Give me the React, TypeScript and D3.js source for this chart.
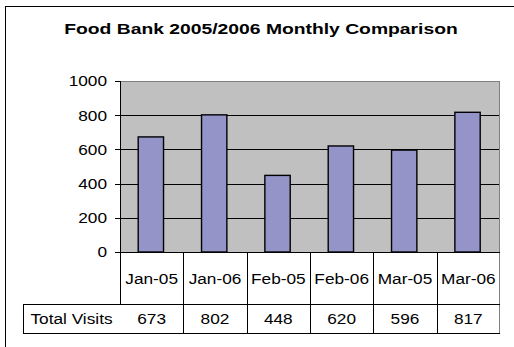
import React from 'react';
import * as d3 from 'd3';

const chartTitle = 'Food Bank 2005/2006 Monthly Comparison';
const categories = ['Jan-05', 'Jan-06', 'Feb-05', 'Feb-06', 'Mar-05', 'Mar-06'];
const seriesName = 'Total Visits';
const totalVisits = [673, 802, 448, 620, 596, 817];
const yTicks = [0, 200, 400, 600, 800, 1000];

const FONT = "'Liberation Sans', Arial, Helvetica, sans-serif";

export default function App() {
  const W = 514;
  const H = 347;
  const plot = { left: 120, right: 500, top: 81, bottom: 252 };
  const x = d3.scaleBand<string>().domain(categories).range([plot.left, plot.right]).padding(0);
  const y = d3.scaleLinear().domain([0, 1000]).range([plot.bottom, plot.top]);
  const bw = x.bandwidth();
  const barW = bw * 0.4;
  const rowMid = 304;
  const rowBot = 333;
  const tableLeft = 23;
  const sx = 1.15;
  const c = (v: number) => Math.round(v) + 0.5;
  const boundaries = categories.map((d) => x(d) as number).concat([plot.right]);

  const stretched = (
    tx: number,
    ty: number,
    txt: string,
    anchor: string,
    size = 15,
    scale = sx,
    weight: any = 'normal'
  ) => (
    <text
      transform={`translate(${tx},${ty}) scale(${scale},1)`}
      textAnchor={anchor as any}
      fontFamily={FONT}
      fontSize={size}
      fontWeight={weight}
      fill="#000"
    >
      {txt}
    </text>
  );

  return (
    <div style={{ position: 'fixed', left: 0, top: 0, width: W, height: H, background: '#fff' }}>
      <svg width={W} height={H} viewBox={`0 0 ${W} ${H}`} style={{ display: 'block' }}>
        <rect x={0} y={0} width={W} height={H} fill="#fff" />
        {/* outer chart border (left & top visible) */}
        <line x1={5.5} y1={6} x2={5.5} y2={H} stroke="#000" strokeWidth={1} />
        <line x1={5} y1={6.5} x2={W} y2={6.5} stroke="#000" strokeWidth={1} />

        {/* title */}
        {stretched(261, 33.5, chartTitle, 'middle', 15.5, 1.245, 'bold')}

        {/* plot area */}
        <rect
          x={plot.left}
          y={plot.top}
          width={plot.right - plot.left}
          height={plot.bottom - plot.top}
          fill="#C0C0C0"
        />
        {yTicks
          .filter((t) => t > 0 && t < 1000)
          .map((t) => (
            <line key={t} x1={plot.left} x2={plot.right} y1={c(y(t))} y2={c(y(t))} stroke="#000" strokeWidth={1} />
          ))}
        <line x1={plot.left} x2={plot.right} y1={c(plot.top)} y2={c(plot.top)} stroke="#808080" strokeWidth={1} />
        <line x1={c(plot.right) - 1} x2={c(plot.right) - 1} y1={plot.top} y2={rowBot} stroke="#808080" strokeWidth={1} />

        {/* bars */}
        {categories.map((cat, i) => {
          const bx = (x(cat) as number) + (bw - barW) / 2 - 0.8;
          return (
            <rect
              key={cat}
              x={bx}
              y={y(totalVisits[i])}
              width={barW}
              height={y(0) - y(totalVisits[i])}
              fill="#9494C8"
              stroke="#000"
              strokeWidth={1.4}
            />
          );
        })}

        {/* y axis */}
        <line x1={c(plot.left)} x2={c(plot.left)} y1={plot.top} y2={rowMid} stroke="#000" strokeWidth={1} />
        {yTicks.map((t) => (
          <g key={t}>
            <line x1={115} x2={plot.left} y1={c(y(t))} y2={c(y(t))} stroke="#000" strokeWidth={1} />
            {stretched(107, y(t) + 5.4, String(t), 'end')}
          </g>
        ))}

        {/* x axis / data table */}
        <line x1={plot.left} x2={plot.right} y1={c(plot.bottom)} y2={c(plot.bottom)} stroke="#000" strokeWidth={1} />
        <line x1={tableLeft} x2={plot.right} y1={c(rowMid)} y2={c(rowMid)} stroke="#000" strokeWidth={1} />
        <line x1={tableLeft} x2={plot.right} y1={c(rowBot)} y2={c(rowBot)} stroke="#000" strokeWidth={1} />
        <line x1={c(tableLeft)} x2={c(tableLeft)} y1={rowMid} y2={rowBot + 1} stroke="#000" strokeWidth={1} />
        {boundaries.slice(1, -1).map((bx, i) => (
          <line key={i} x1={c(bx)} x2={c(bx)} y1={plot.bottom} y2={rowBot + 1} stroke="#000" strokeWidth={1} />
        ))}
        {categories.map((cat) => (
          <g key={cat}>{stretched((x(cat) as number) + bw / 2, 283.5, cat, 'middle')}</g>
        ))}
        {stretched((tableLeft + plot.left) / 2, 323.5, seriesName, 'middle')}
        {categories.map((cat, i) => (
          <g key={cat + 'v'}>{stretched((x(cat) as number) + bw / 2, 323.5, String(totalVisits[i]), 'middle')}</g>
        ))}
      </svg>
    </div>
  );
}
